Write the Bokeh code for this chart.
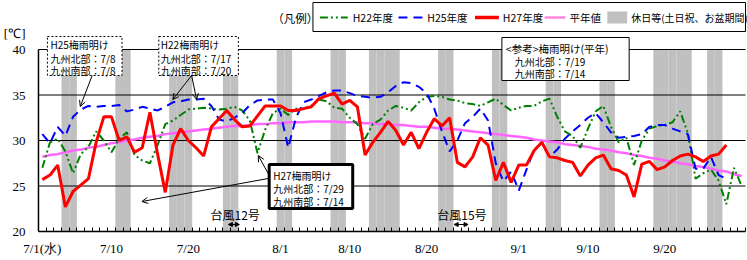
import pandas as pd
from bokeh.plotting import figure
from bokeh.models import Range1d, FixedTicker, BoxAnnotation, Label, Arrow, OpenHead, NormalHead
from bokeh.embed import file_html
from bokeh.resources import INLINE

# ---------------- data ----------------
dates = [f"{d.month}/{d.day}" for d in pd.date_range("2015-07-01", "2015-09-30")]
tick_labels = {"7/1": "7/1(水)", "7/10": "7/10", "7/20": "7/20", "8/1": "8/1", "8/10": "8/10",
               "8/20": "8/20", "9/1": "9/1", "9/10": "9/10", "9/20": "9/20"}
y_ticks = [20, 25, 30, 35, 40]
y_unit = "[℃]"
holidays = ["7/4", "7/5", "7/11", "7/12", "7/18", "7/19", "7/20", "7/25", "7/26",
            "8/1", "8/2", "8/8", "8/9", "8/13", "8/14", "8/15", "8/16", "8/22", "8/23",
            "8/29", "8/30", "9/5", "9/6", "9/12", "9/13", "9/19", "9/20", "9/21", "9/22",
            "9/23", "9/26", "9/27"]

h22 = [27.0, 29.8, 30.2, 28.8, 26.4, 28.5, 29.3, 31.0, 30.0, 28.7,
       30.2, 30.9, 28.4, 27.8, 27.5, 29.5, 31.8, 32.2, 32.8, 33.4,
       33.5, 33.6, 33.5, 33.4, 33.5, 33.7, 33.3, 32.2, 28.6, 31.2,
       33.0, 33.5, 32.8, 33.5, 33.5, 33.8, 34.5, 34.3, 33.6, 33.5,
       32.5, 31.8, 30.2, 31.8, 32.3, 33.3, 33.8, 33.6, 33.3, 34.2,
       34.8, 34.9, 34.8, 34.5, 34.4, 34.1, 34.0, 33.8, 34.2, 34.6,
       33.9, 33.3, 33.6, 33.8, 33.8, 34.3, 34.6, 32.6, 31.0, 30.5,
       29.2, 31.3, 33.2, 33.8, 31.5, 29.8, 30.3, 27.3, 30.0, 31.3,
       31.6, 31.7, 32.0, 33.2, 30.8, 25.8, 26.4, 26.8, 25.6, 23.0,
       27.0, 25.0]
h25 = [30.7, 29.7, 31.5, 30.5, 32.6, 33.4, 33.8, 33.7, 33.8, 33.8,
       33.9, 33.2, 33.4, 33.7, 33.5, 33.3, 33.7, 34.2, 34.3, 34.5,
       34.5, 34.6, 33.8, 32.3, 32.1, 32.5, 33.0, 33.9, 34.4, 34.5,
       34.5, 33.0, 29.2, 32.5, 34.2, 34.5, 34.9, 35.3, 35.5, 35.5,
       35.2, 34.9, 34.8, 34.7, 34.8, 35.3, 36.0, 36.4, 36.3, 35.9,
       35.2, 33.5, 31.0, 28.8, 30.0, 31.9, 32.6, 33.5, 32.2, 27.5,
       25.5, 26.6, 24.5, 26.8, 29.0, 29.7, 28.2, 29.0, 30.2, 31.0,
       31.7, 32.5, 33.0, 32.0, 30.9, 30.3, 30.4, 30.5, 30.7, 31.5,
       31.7, 31.7, 31.3, 31.0, 30.7, 26.9, 26.9, 28.2, 26.2, 25.8]
h27 = [25.7, 26.2, 27.3, 22.7, 24.4, 25.1, 25.8, 29.8, 32.6, 32.6,
       30.0, 30.4, 28.7, 29.2, 33.1, 28.5, 24.3, 29.5, 31.3, 30.0,
       29.2, 28.3, 31.5, 32.4, 33.3, 32.3, 31.5, 31.6, 32.7, 33.8,
       33.8, 33.8, 33.3, 33.3, 33.5, 33.7, 34.6, 34.9, 35.2, 34.0,
       34.4, 33.7, 28.4, 29.8, 30.9, 32.1, 31.1, 29.5, 30.9, 29.1,
       30.9, 32.4, 31.6, 32.5, 27.6, 27.1, 28.2, 30.3, 29.5, 25.6,
       27.6, 25.4, 27.3, 27.3, 28.9, 29.8, 28.2, 28.1, 27.8, 27.6,
       26.1, 27.3, 28.1, 28.4, 26.9, 26.7, 26.2, 23.8, 27.4, 27.7,
       26.8, 27.1, 27.8, 28.3, 28.5, 28.2, 27.7, 28.3, 28.5, 29.5]
normal = [28.2, 28.4, 28.5, 28.7, 28.9, 29.0, 29.2, 29.3, 29.5, 29.7,
          29.8, 30.0, 30.1, 30.3, 30.4, 30.5, 30.7, 30.8, 30.9, 31.0,
          31.1, 31.2, 31.3, 31.4, 31.5, 31.6, 31.6, 31.7, 31.8, 31.8,
          31.9, 31.9, 32.0, 32.0, 32.0, 32.1, 32.1, 32.1, 32.1, 32.0,
          32.0, 32.0, 31.9, 31.9, 31.8, 31.8, 31.7, 31.7, 31.6, 31.5,
          31.5, 31.4, 31.3, 31.3, 31.2, 31.1, 31.0, 30.9, 30.8, 30.7,
          30.6, 30.5, 30.4, 30.3, 30.1, 30.0, 29.9, 29.8, 29.6, 29.5,
          29.4, 29.3, 29.1, 29.0, 28.9, 28.7, 28.6, 28.4, 28.3, 28.1,
          28.0, 27.8, 27.7, 27.5, 27.4, 27.2, 27.1, 26.9, 26.7, 26.6,
          26.3, 26.1]

# ---------------- geometry ----------------
W, H = 747, 260
PLOT_L, PLOT_R, PLOT_T, PLOT_B = 34, 745, 49, 231   # plotting box (pixels)
FRAME_L = 30                                        # frame extends over the top area
ndays = len(dates)
YMIN, YMAX = y_ticks[0], y_ticks[-1]
DX = (PLOT_R - PLOT_L) / ndays
DY = (PLOT_B - PLOT_T) / (YMAX - YMIN)


def X(px):
    return (px - PLOT_L) / DX - 0.5


def Y(py):
    return YMIN + (PLOT_B - py) / DY


unit_pos = 41.75

p = figure(width=W, height=H, output_backend="svg", toolbar_location=None,
           x_range=Range1d(X(FRAME_L), X(W)), y_range=Range1d(YMIN, Y(0)),
           min_border_left=FRAME_L, min_border_right=0,
           min_border_top=0, min_border_bottom=H - PLOT_B)
p.outline_line_color = None
p.xgrid.visible = False
p.ygrid.visible = False
p.background_fill_color = "white"
p.border_fill_color = "white"

xs = list(range(ndays))
hol_x = [dates.index(d) for d in holidays]
p.vbar(x=hol_x, width=1, bottom=YMIN, top=YMAX, fill_color="#C0C0C0", line_color=None)
grid_y = y_ticks[1:]
p.segment(x0=[-0.5] * len(grid_y), x1=[ndays - 0.5] * len(grid_y), y0=grid_y, y1=grid_y,
          line_color="black", line_width=1)
p.segment(x0=[-0.5], x1=[-0.5], y0=[YMIN], y1=[YMAX], line_color="black", line_width=1.5)

p.line(xs[:len(normal)], normal, line_color="#FF66FF", line_width=2.5)
p.line(xs[:len(h22)], h22, line_color="#008000", line_width=2, line_dash="8 3 2 3 2 3")
p.line(xs[:len(h25)], h25, line_color="#0000FF", line_width=2, line_dash="9 6")
p.line(xs[:len(h27)], h27, line_color="#FF0000", line_width=3)

SERIF = "Liberation Serif"
JP = "Noto Sans CJK JP"

p.yaxis.ticker = FixedTicker(ticks=y_ticks + [unit_pos])
p.yaxis.major_label_overrides = {unit_pos: y_unit}
p.yaxis.axis_line_color = None
p.yaxis.major_tick_in = 0
p.yaxis.major_tick_out = 0
p.yaxis.minor_tick_in = 0
p.yaxis.minor_tick_out = 0
p.yaxis.major_label_standoff = 9
p.yaxis.major_label_text_font = SERIF
p.yaxis.major_label_text_font_size = "13px"
p.yaxis.major_label_text_color = "black"

tick_pos = [dates.index(k) for k in tick_labels]
p.xaxis.bounds = (-0.5, ndays - 0.5)
p.xaxis.ticker = FixedTicker(ticks=tick_pos, minor_ticks=[i - 0.5 for i in range(ndays + 1)])
p.xaxis.major_label_overrides = {dates.index(k): v for k, v in tick_labels.items()}
p.xaxis.major_tick_in = 0
p.xaxis.major_tick_out = 0
p.xaxis.minor_tick_in = 4
p.xaxis.minor_tick_out = 0
p.xaxis.minor_tick_line_width = 1
p.xaxis.axis_line_width = 1.5
p.xaxis.major_label_standoff = 9
p.xaxis.major_label_text_font = SERIF
p.xaxis.major_label_text_font_size = "13px"
p.xaxis.major_label_text_color = "black"


def box(l, t, r, b, dash="solid", width=1):
    p.add_layout(BoxAnnotation(left=X(l), right=X(r), top=Y(t), bottom=Y(b),
                               fill_color="white", fill_alpha=1.0, line_color="black",
                               line_alpha=1.0, line_width=width, line_dash=dash))


def text(px, py, s, size="10.5px", font=JP, align="left"):
    p.add_layout(Label(x=X(px), y=Y(py), text=s, text_font=font, text_font_size=size,
                       text_baseline="middle", text_align=align, text_color="black"))


def seg(x0, y0, x1, y1, color="black", width=1, dash="solid", head=None):
    p.add_layout(Arrow(x_start=X(x0), y_start=Y(y0), x_end=X(x1), y_end=Y(y1),
                       line_color=color, line_width=width, line_dash=dash, end=head))


# legend
text(269, 17, "（凡例）", size="11.5px")
box(310, 2, 745, 31)
seg(317, 17, 345, 17, color="#008000", width=2, dash="8 3 2 3 2 3")
text(350, 17, "H22年度")
seg(396, 17, 421, 17, color="#0000FF", width=2, dash="9 6")
text(425, 17, "H25年度")
seg(473, 17, 497, 17, color="#FF0000", width=3.5)
text(501, 17, "H27年度")
seg(543, 17, 564, 17, color="#FF88DD", width=2.5)
text(568, 17, "平年値")
p.add_layout(BoxAnnotation(left=X(606), right=X(626), top=Y(11), bottom=Y(23),
                           fill_color="#C0C0C0", fill_alpha=1.0, line_color=None))
text(630, 17, "休日等(土日祝、お盆期間)", size="10px")

# annotation boxes
box(43, 36, 118, 75, dash="2 2")
text(46, 44, "H25梅雨明け", size="10px")
text(46, 58, "九州北部：7/8", size="10px")
text(46, 70, "九州南部：7/8", size="10px")

box(155, 36, 235, 75, dash="2 2")
text(157, 44, "H22梅雨明け", size="10px")
text(157, 58, "九州北部：7/17", size="10px")
text(157, 70, "九州南部：7/20", size="10px")

box(500, 37, 628, 80)
text(504, 48, "<参考>梅雨明け(平年)", size="10.5px")
text(513, 61, "九州北部：7/19", size="10px")
text(513, 73, "九州南部：7/14", size="10px")

box(266, 164, 350, 208, width=3)
text(270, 175, "H27梅雨明け", size="10px")
text(270, 188, "九州北部：7/29", size="10px")
text(270, 201, "九州南部：7/14", size="10px")

# pointer arrows
seg(88, 75, 76, 106, head=OpenHead(size=6, line_width=1))
seg(188, 75, 169, 99, head=OpenHead(size=6, line_width=1))
seg(188, 75, 193, 99, head=OpenHead(size=6, line_width=1))
seg(265, 178, 138, 201, head=OpenHead(size=6, line_width=1))
seg(265, 173, 255, 155, head=OpenHead(size=6, line_width=1))

# typhoons
text(207, 214, "台風12号", size="12px")
p.add_layout(Arrow(x_start=X(225), y_start=Y(224), x_end=X(236), y_end=Y(224), line_width=1,
                   start=NormalHead(size=4, line_width=1), end=NormalHead(size=4, line_width=1)))
text(435, 214, "台風15号", size="12px")
p.add_layout(Arrow(x_start=X(452), y_start=Y(224), x_end=X(466), y_end=Y(224), line_width=1,
                   start=NormalHead(size=4, line_width=1), end=NormalHead(size=4, line_width=1)))

open("out.html", "w").write(file_html(p, INLINE))
